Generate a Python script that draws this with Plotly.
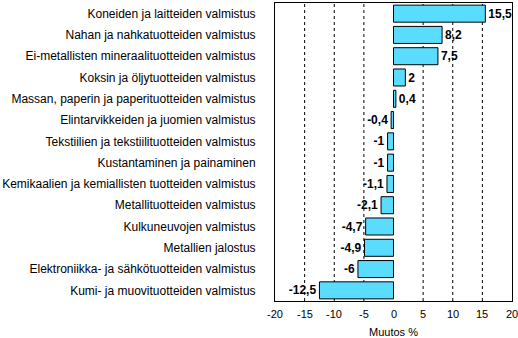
import plotly.graph_objects as go

categories = [
    "Koneiden ja laitteiden valmistus",
    "Nahan ja nahkatuotteiden valmistus",
    "Ei-metallisten mineraalituotteiden valmistus",
    "Koksin ja öljytuotteiden valmistus",
    "Massan, paperin ja paperituotteiden valmistus",
    "Elintarvikkeiden ja juomien valmistus",
    "Tekstiilien ja tekstiilituotteiden valmistus",
    "Kustantaminen ja painaminen",
    "Kemikaalien ja kemiallisten tuotteiden valmistus",
    "Metallituotteiden valmistus",
    "Kulkuneuvojen valmistus",
    "Metallien jalostus",
    "Elektroniikka- ja sähkötuotteiden valmistus",
    "Kumi- ja muovituotteiden valmistus",
]
values = [15.5, 8.2, 7.5, 2, 0.4, -0.4, -1, -1, -1.1, -2.1, -4.7, -4.9, -6, -12.5]
labels = [("%g" % v).replace(".", ",") for v in values]
x_ticks = [-20, -15, -10, -5, 0, 5, 10, 15, 20]

fig = go.Figure(go.Bar(
    y=categories, x=values, orientation="h",
    marker=dict(color="#5ADCFF", line=dict(color="black", width=1)),
    text=labels, textposition="outside", cliponaxis=False,
    textfont=dict(family="Liberation Sans Narrow, Arial Narrow, Arial", size=12, color="black", weight="bold"),
))

for g in [-15, -10, -5, 5, 10, 15]:
    fig.add_shape(type="line", xref="x", yref="paper", x0=g, x1=g, y0=0, y1=1,
                  line=dict(color="black", width=1, dash="3px,3px"), layer="below")

# tick labels drawn as annotations so the last one at the figure edge is not dropped
for t in x_ticks:
    fig.add_annotation(x=t, xref="x", y=0, yref="paper", yanchor="top", yshift=-5,
                       text=str(t), showarrow=False, font=dict(size=11, color="black"),
                       xanchor="center")

fig.update_layout(
    width=518, height=338,
    margin=dict(l=275, r=6, t=2, b=36),
    plot_bgcolor="white", paper_bgcolor="white",
    bargap=0.2, showlegend=False,
    font=dict(family="Liberation Sans, Arial", size=10, color="black"),
    xaxis=dict(range=[-20, 20], tickvals=x_ticks, showticklabels=False,
               showgrid=False, zeroline=False, showline=True, linecolor="black", mirror=True,
               title=dict(text="Muutos %", standoff=27, font=dict(size=11))),
    yaxis=dict(autorange="reversed", showgrid=False, showline=True, linecolor="black", mirror=True,
               ticklabelstandoff=16, tickfont=dict(size=12)),
)

fig.write_html("out.html")
